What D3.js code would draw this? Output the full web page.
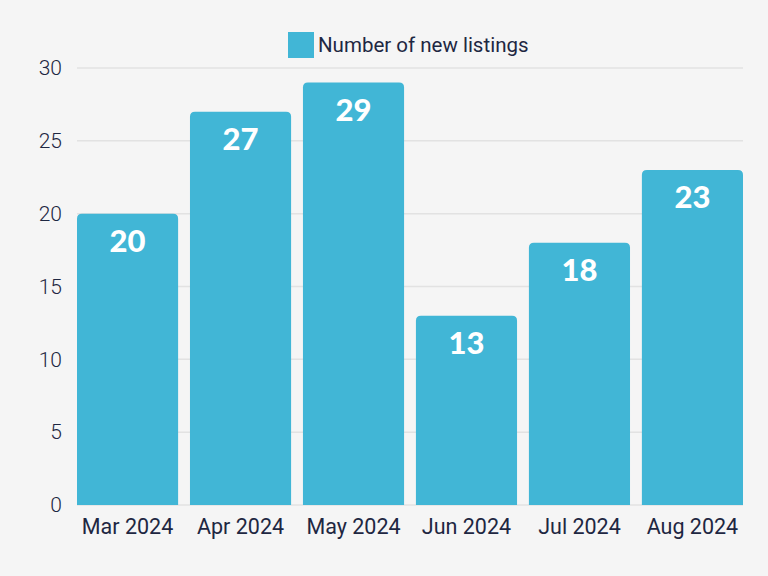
<!DOCTYPE html>
<html><head><meta charset="utf-8">
<script src="https://cdn.jsdelivr.net/npm/d3@7"></script>
<style>html,body{margin:0;padding:0;background:#f5f5f5;}</style>
</head><body>
<svg id="c" width="768" height="576"></svg>
<script>
const categories = ["Mar 2024","Apr 2024","May 2024","Jun 2024","Jul 2024","Aug 2024"];
const values = [20,27,29,13,18,23];
const yTicks = [0,5,10,15,20,25,30];
const seriesName = "Number of new listings";

(function(){
const W=768,H=576;
const svg=d3.select("#c");
svg.append("rect").attr("width",W).attr("height",H).attr("fill","#f5f5f5");
const mLeft=77,mRight=743,mTop=68,mBottom=505;
const x=d3.scaleBand().domain(categories).range([mLeft,mRight]).paddingInner(0.105).paddingOuter(0);
const y=d3.scaleLinear().domain([0,30]).range([mBottom,mTop]);
const color="#41b6d6";
const textColor="#1e2742";

svg.append("g").selectAll("line").data(yTicks).join("line")
  .attr("x1",mLeft).attr("x2",mRight).attr("y1",d=>y(d)).attr("y2",d=>y(d))
  .attr("stroke","#e2e2e2").attr("stroke-width",1.5);

const ya=svg.append("g").attr("transform",`translate(${mLeft},0)`)
  .call(d3.axisLeft(y).tickValues(yTicks).tickSize(0).tickPadding(15));
ya.select(".domain").remove();
ya.selectAll("text").attr("font-family","Roboto, sans-serif").attr("font-weight",300).attr("font-size",21).attr("fill",textColor);

const xa=svg.append("g").attr("transform",`translate(0,${mBottom})`)
  .call(d3.axisBottom(x).tickSize(0).tickPadding(14));
xa.select(".domain").remove();
xa.selectAll("text").attr("font-family","Roboto, sans-serif").attr("font-size",21.5).attr("fill",textColor);

const r=5;
function barPath(d,i){
  const x0=x(categories[i]),w=x.bandwidth(),y0=y(d),y1=y(0);
  return `M${x0},${y1}V${y0+r}Q${x0},${y0} ${x0+r},${y0}H${x0+w-r}Q${x0+w},${y0} ${x0+w},${y0+r}V${y1}Z`;
}
svg.append("g").selectAll("path").data(values).join("path")
  .attr("d",(d,i)=>barPath(d,i)).attr("fill",color);

svg.append("g").selectAll("text").data(values).join("text")
  .attr("x",(d,i)=>x(categories[i])+x.bandwidth()/2)
  .attr("y",d=>y(d)+38)
  .attr("text-anchor","middle")
  .attr("font-family","Lato, Inter, sans-serif").attr("font-weight","900").attr("font-size",31)
  .attr("fill","#ffffff").text(d=>d);

svg.append("rect").attr("x",288).attr("y",32).attr("width",26).attr("height",26).attr("fill",color);
svg.append("text").attr("x",318).attr("y",52).attr("font-family","Roboto, sans-serif").attr("font-size",20.5)
  .attr("fill",textColor).text(seriesName);
})();
</script>
</body></html>
